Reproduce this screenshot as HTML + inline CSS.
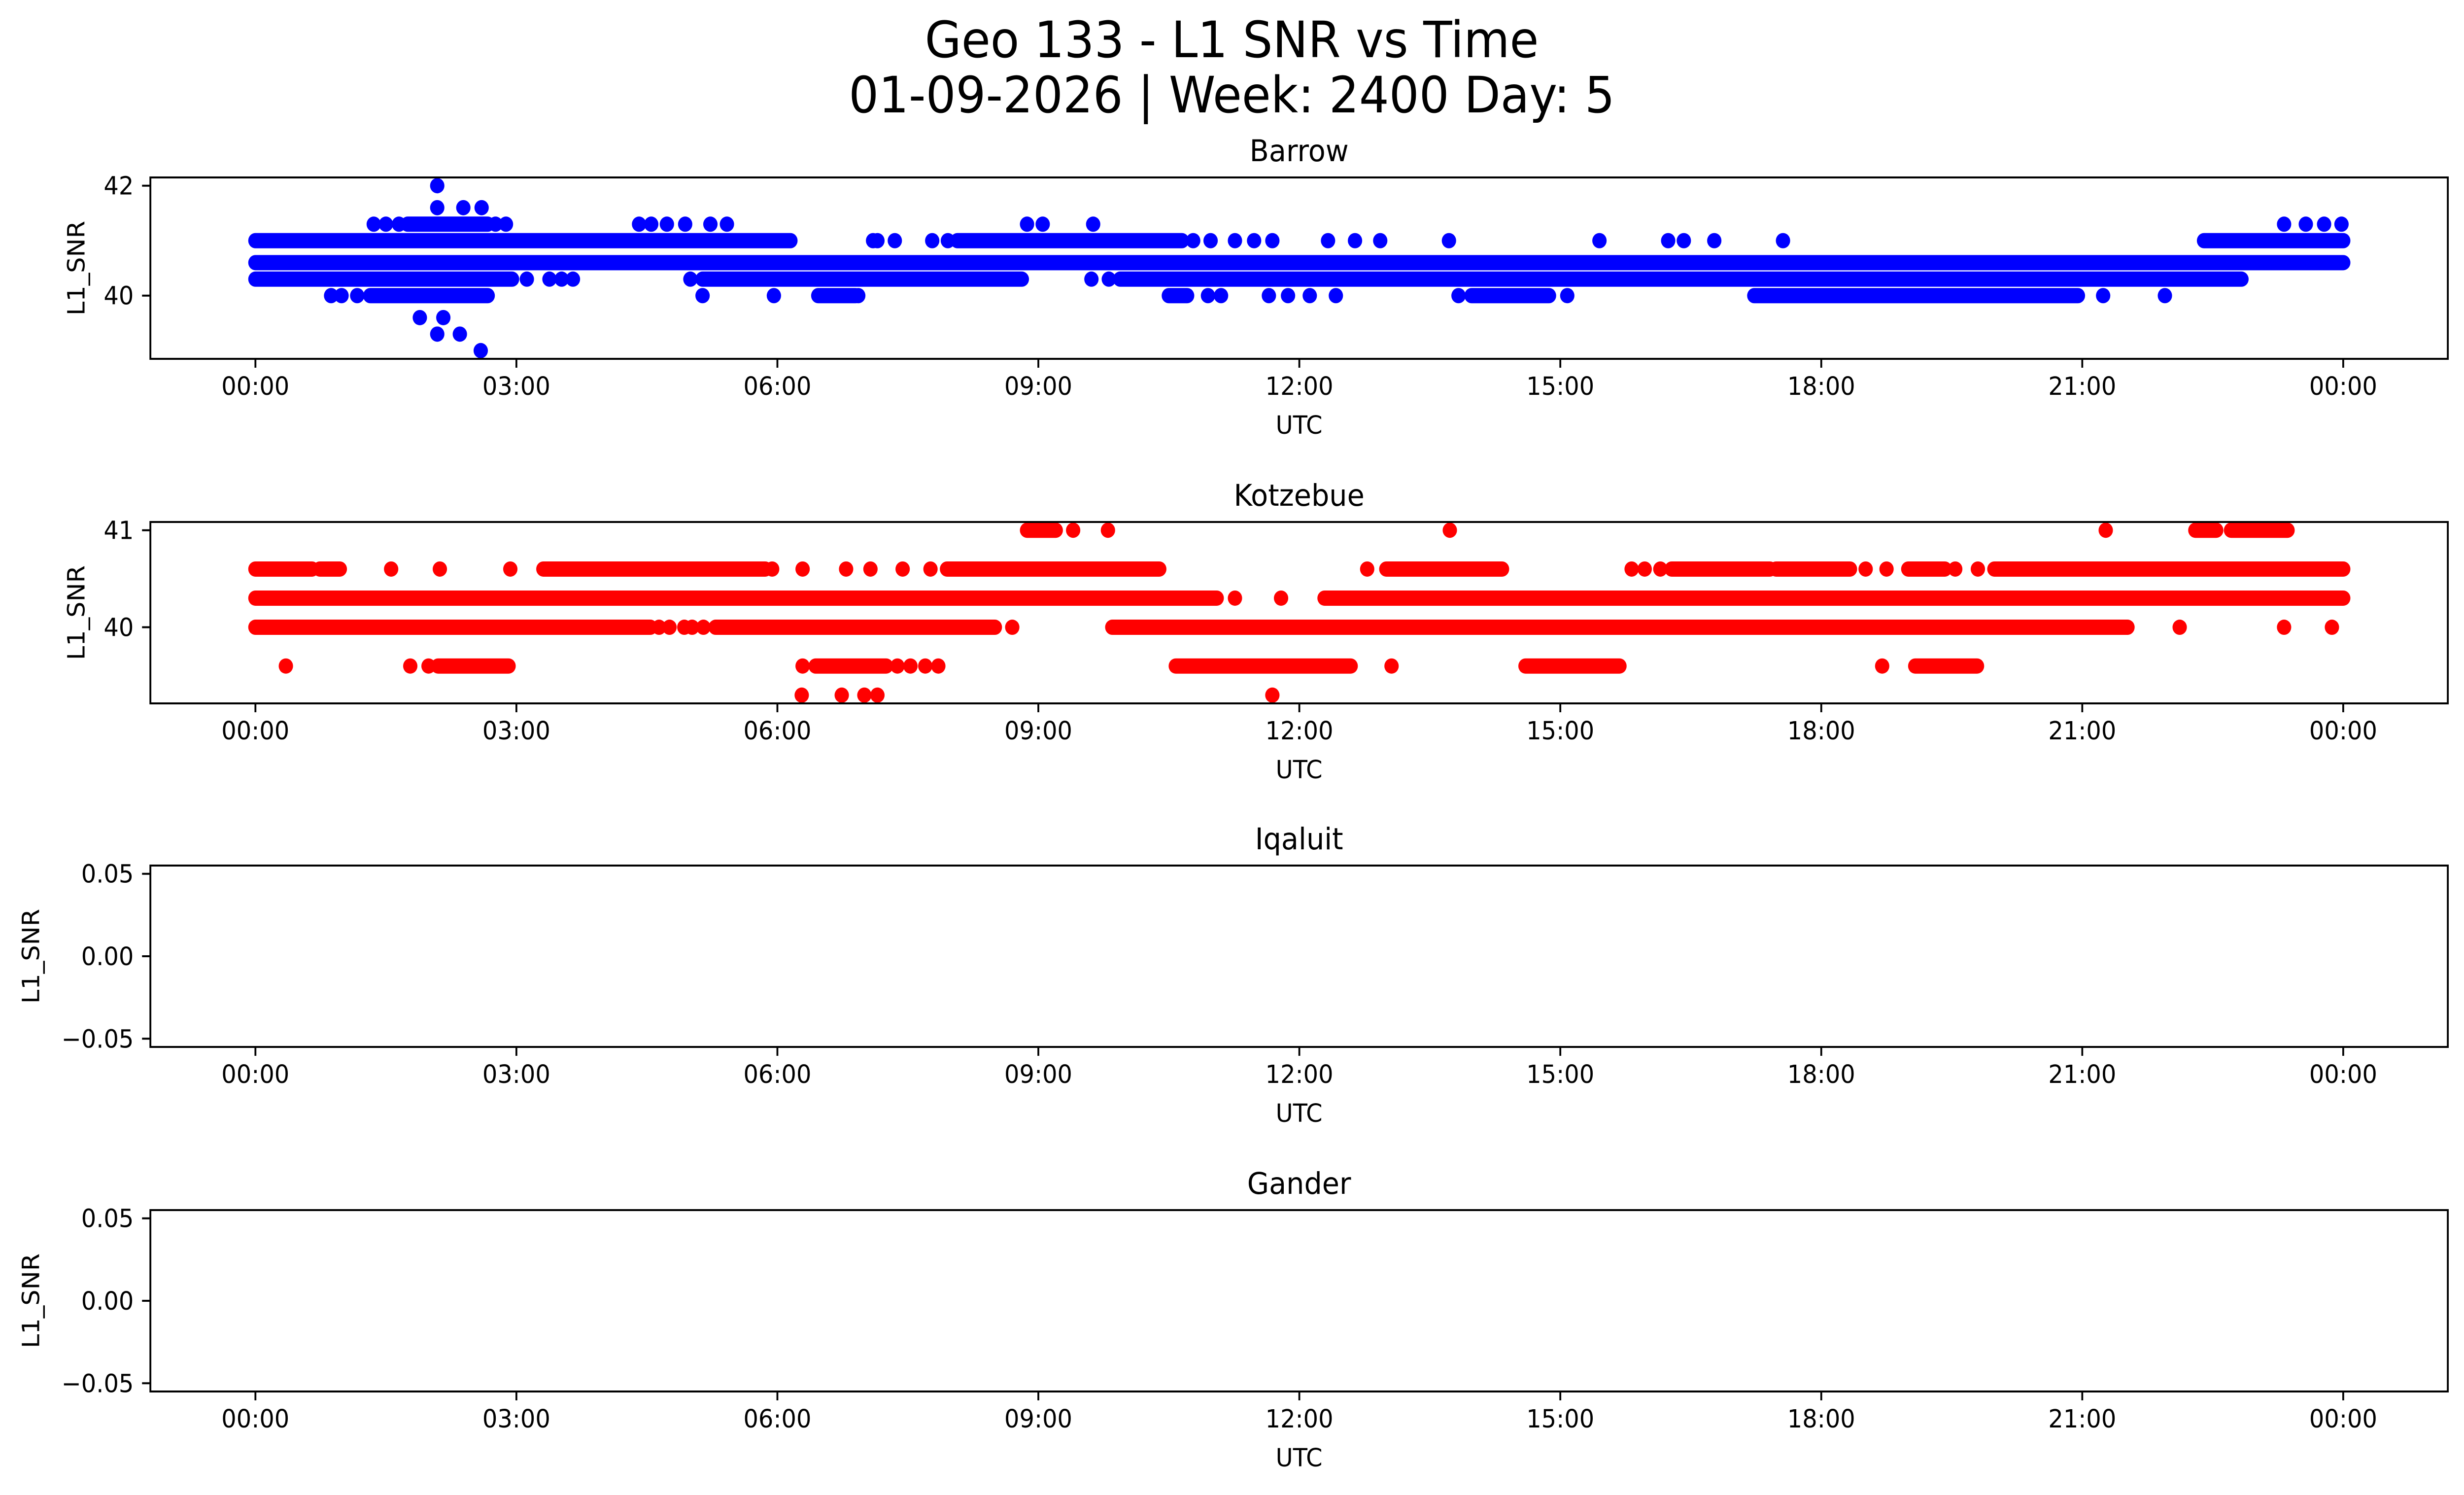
<!DOCTYPE html>
<html><head><meta charset="utf-8"><style>
html,body{margin:0;padding:0;background:#fff;width:100%;height:100%;overflow:hidden;}
svg{display:block;width:100vw;height:100vh;font-family:"DejaVu Sans","Liberation Sans",sans-serif;}
</style></head><body>
<svg id="fig" viewBox="0 0 5325 3033" preserveAspectRatio="none" xmlns="http://www.w3.org/2000/svg">
<rect width="5325" height="3033" fill="#fff"/>
<text x="2662" y="116" font-size="102" text-anchor="middle">Geo 133 - L1 SNR vs Time</text>
<text x="2662" y="228" font-size="102" text-anchor="middle">01-09-2026 | Week: 2400 Day: 5</text>
</svg>
<script>
// ---- data ----
const xTickHours = [0,3,6,9,12,15,18,21,24];
const xTickLabels = ["00:00","03:00","06:00","09:00","12:00","15:00","18:00","21:00","00:00"];
const stations = ["Barrow","Kotzebue","Iqaluit","Gander"];

const barrowYTicks = [40,42];
const barrowYLim = [38.85,42.15];
const barrowBandLevel = [41.0,41.0,41.0,40.6,40.3,40.3,40.3,40.0,40.0,40.0,40.0,40.0,41.3];
const barrowBandStart = [0,8.07,22.4,0,0,5.14,9.94,1.32,6.47,10.5,13.98,17.23,1.75];
const barrowBandEnd   = [6.15,10.65,24,24,2.95,8.81,22.83,2.67,6.9,10.71,14.87,20.95,2.67];
const barrowPtTime = [2.09, 2.09,2.39,2.6,
  1.36,1.5,1.65,2.76,2.88,4.41,4.55,4.73,4.94,5.23,5.42,8.87,9.05,9.63,23.32,23.57,23.78,23.98,
  7.1,7.15,7.35,7.78,7.96,10.78,10.98,11.26,11.48,11.69,12.33,12.64,12.93,13.72,15.45,16.24,16.42,16.77,17.56,
  3.12,3.38,3.52,3.65,5.0,9.61,9.81,
  0.87,0.99,1.17,5.14,5.96,6.93,10.95,11.1,11.65,11.87,12.12,12.42,13.83,15.08,21.24,21.95,
  1.89,2.16, 2.09,2.35, 2.59];
const barrowPtLevel = [42, 41.6,41.6,41.6,
  41.3,41.3,41.3,41.3,41.3,41.3,41.3,41.3,41.3,41.3,41.3,41.3,41.3,41.3,41.3,41.3,41.3,41.3,
  41,41,41,41,41,41,41,41,41,41,41,41,41,41,41,41,41,41,41,
  40.3,40.3,40.3,40.3,40.3,40.3,40.3,
  40,40,40,40,40,40,40,40,40,40,40,40,40,40,40,40,
  39.6,39.6, 39.3,39.3, 39.0];

const kotzYTicks = [40,41];
const kotzYLim = [39.215,41.085];
const kotzBandLevel = [40.3,40.3,40.0,40.0,40.0,40.6,40.6,40.6,40.6,40.6,40.6,40.6,40.6,40.6,39.6,39.6,39.6,39.6,39.6,41,41,41];
const kotzBandStart = [0,12.29,0,5.29,9.85,0,0.74,3.31,7.95,13.0,16.28,17.48,19.0,19.99,2.1,6.44,10.58,14.6,19.08,8.87,22.3,22.71];
const kotzBandEnd   = [11.05,24,4.54,8.5,21.52,0.65,0.97,5.86,10.39,14.33,17.41,18.33,19.42,24,2.91,7.25,12.59,15.68,19.79,9.2,22.54,23.36];
const kotzPtTime = [1.56,2.12,2.93,5.94,6.29,6.79,7.07,7.44,7.76,12.78,15.82,15.97,16.15,18.51,18.75,19.54,19.8,
  9.4,9.8,13.73,21.27, 11.26,11.79,
  4.64,4.76,4.93,5.02,5.15,8.7,22.12,23.32,23.87,
  0.35,1.78,1.99,6.29,7.38,7.53,7.7,7.85,13.06,18.7,
  6.28,6.74,7.0,7.15,11.69];
const kotzPtLevel = [40.6,40.6,40.6,40.6,40.6,40.6,40.6,40.6,40.6,40.6,40.6,40.6,40.6,40.6,40.6,40.6,40.6,
  41,41,41,41, 40.3,40.3,
  40,40,40,40,40,40,40,40,40,
  39.6,39.6,39.6,39.6,39.6,39.6,39.6,39.6,39.6,39.6,
  39.3,39.3,39.3,39.3,39.3];

const emptyYTicks = [-0.05,0,0.05];
const emptyYLim = [-0.055,0.055];

// ---- drawing ----
const NS = "http://www.w3.org/2000/svg";
const svg = document.getElementById('fig');
const AX_L = 325, AX_R = 5290, AX_H = 368;
const AX_TOPS = [360,1059,1756,2455];
const X0 = 552, X1 = 5064, R = 15.5;
function xScale(h){ return X0 + (X1 - X0) * h / 24; }
function mk(tag, attrs, parent){ const e = document.createElementNS(NS, tag); for (const k in attrs) e.setAttribute(k, attrs[k]); (parent||svg).appendChild(e); return e; }

function drawAxes(idx, title, yLim, yTicks, yFmt, yLabelX, color, bLev, bS, bE, pT, pL){
  const top = AX_TOPS[idx], bot = top + AX_H;
  const yScale = v => bot - (v - yLim[0]) / (yLim[1] - yLim[0]) * AX_H;
  const g = mk('g', {});
  
  
  const t = mk('text', {x: (AX_L+AX_R)/2, y: top - 33, 'font-size': 61, 'text-anchor': 'middle'}, g);
  t.textContent = title;
  
  
  const cp = mk('clipPath', {id: 'clip' + idx}, g);
  mk('rect', {x: AX_L, y: top, width: AX_R - AX_L, height: AX_H}, cp);
  const marks = mk('g', {'clip-path': 'url(#clip' + idx + ')', fill: color}, g);
  
  
  if (bLev) for (let i = 0; i < bLev.length; i++){
    const xa = xScale(bS[i]), xb = xScale(bE[i]), y = yScale(bLev[i]);
    const r = mk('rect', {x: xa - R, y: y - R, width: xb - xa + 2*R, height: 2*R, rx: R, ry: R}, marks);
    
    
  }
  if (pT) for (let i = 0; i < pT.length; i++){
    const c = mk('circle', {cx: xScale(pT[i]), cy: yScale(pL[i]), r: R}, marks);
    
    
  }
  const frame = mk('rect', {x: AX_L, y: top, width: AX_R - AX_L, height: AX_H, fill: 'none', stroke: '#000', 'stroke-width': 4}, g);
  
  
  for (let i = 0; i < xTickHours.length; i++){
    const x = xScale(xTickHours[i]);
    mk('line', {x1: x, x2: x, y1: bot, y2: bot + 18, stroke: '#000', 'stroke-width': 4}, g);
    const tl = mk('text', {x: x, y: bot + 73, 'font-size': 51, 'text-anchor': 'middle'}, g);
    tl.textContent = xTickLabels[i];
    
    
  }
  const xl = mk('text', {x: (AX_L+AX_R)/2, y: bot + 152, 'font-size': 51, 'text-anchor': 'middle'}, g);
  xl.textContent = 'UTC';
  
  
  for (let i = 0; i < yTicks.length; i++){
    const y = yScale(yTicks[i]);
    mk('line', {x1: AX_L - 18, x2: AX_L, y1: y, y2: y, stroke: '#000', 'stroke-width': 4}, g);
    const tl = mk('text', {x: AX_L - 36, y: y + 18, 'font-size': 51, 'text-anchor': 'end'}, g);
    tl.textContent = yFmt(yTicks[i]);
    
    
  }
  const yc = (top + bot) / 2;
  const yl = mk('text', {x: yLabelX, y: yc, 'font-size': 51, 'text-anchor': 'middle', transform: 'rotate(-90 ' + yLabelX + ' ' + yc + ')', 'dominant-baseline': 'central'}, g);
  yl.textContent = 'L1_SNR';
  
  
}
const fmtInt = v => String(v);
const fmtEmpty = v => (v < 0 ? '\u22120.05' : v.toFixed(2));
drawAxes(0, stations[0], barrowYLim, barrowYTicks, fmtInt, 165, '#0000ff', barrowBandLevel, barrowBandStart, barrowBandEnd, barrowPtTime, barrowPtLevel);
drawAxes(1, stations[1], kotzYLim, kotzYTicks, fmtInt, 165, '#ff0000', kotzBandLevel, kotzBandStart, kotzBandEnd, kotzPtTime, kotzPtLevel);
drawAxes(2, stations[2], emptyYLim, emptyYTicks, fmtEmpty, 67, '#0000ff', null, null, null, null, null);
drawAxes(3, stations[3], emptyYLim, emptyYTicks, fmtEmpty, 67, '#0000ff', null, null, null, null, null);
</script>
</body></html>
